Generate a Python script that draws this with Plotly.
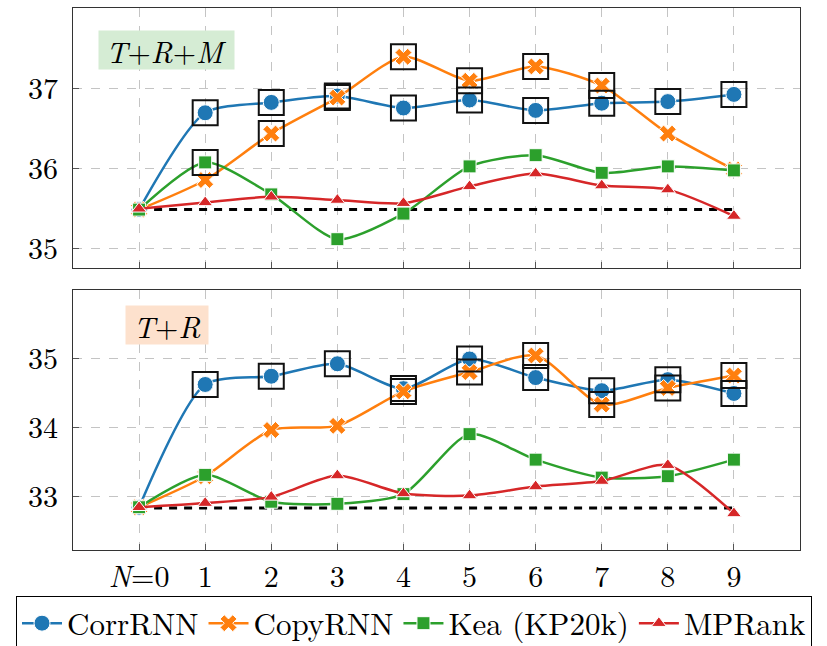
import plotly.graph_objects as go

# ---------------- data ----------------
N = [0, 1, 2, 3, 4, 5, 6, 7, 8, 9]
tick_labels = ["<i>N</i>=0", "1", "2", "3", "4", "5", "6", "7", "8", "9"]

# Panel T+R+M (top)
top_corr = [35.48, 36.69, 36.82, 36.90, 36.75, 36.85, 36.72, 36.81, 36.83, 36.92]
top_copy = [35.48, 35.85, 36.43, 36.88, 37.39, 37.09, 37.27, 37.03, 36.43, 35.98]
top_kea = [35.48, 36.07, 35.67, 35.11, 35.43, 36.02, 36.16, 35.94, 36.02, 35.97]
top_mpr = [35.49, 35.57, 35.64, 35.60, 35.56, 35.77, 35.93, 35.78, 35.73, 35.40]
top_base = 35.48
top_corr_sig = [0, 1, 1, 1, 1, 1, 1, 1, 1, 1]
top_copy_sig = [0, 0, 1, 1, 1, 1, 1, 1, 0, 0]
top_kea_sig = [0, 1, 0, 0, 0, 0, 0, 0, 0, 0]

# Panel T+R (bottom)
bot_corr = [32.85, 34.63, 34.75, 34.93, 34.57, 35.00, 34.73, 34.54, 34.70, 34.50]
bot_copy = [32.85, 33.30, 33.97, 34.03, 34.53, 34.81, 35.05, 34.34, 34.58, 34.76]
bot_kea = [32.85, 33.32, 32.93, 32.90, 33.04, 33.91, 33.54, 33.28, 33.30, 33.54]
bot_mpr = [32.85, 32.91, 33.00, 33.31, 33.05, 33.02, 33.15, 33.23, 33.46, 32.76]
bot_base = 32.84
bot_corr_sig = [0, 1, 1, 1, 1, 1, 1, 1, 1, 1]
bot_copy_sig = [0, 0, 0, 0, 1, 1, 1, 1, 1, 1]
bot_kea_sig = [0, 0, 0, 0, 0, 0, 0, 0, 0, 0]

series_names = ["CorrRNN", "CopyRNN", "Kea (KP20k)", "MPRank"]
colors = ["#1f77b4", "#ff7f0e", "#2ca02c", "#d62728"]
symbols = ["circle", "x", "square", "triangle-up"]
msizes = [16, 15, 13, 13]

FONT = "Latin Modern Roman"

fig = go.Figure()

panels = [
    ("y", [top_corr, top_copy, top_kea, top_mpr], top_base,
     [top_corr_sig, top_copy_sig, top_kea_sig], True),
    ("y2", [bot_corr, bot_copy, bot_kea, bot_mpr], bot_base,
     [bot_corr_sig, bot_copy_sig, bot_kea_sig], False),
]

for yref, data, base, sigs, show in panels:
    xa = "x" if yref == "y" else "x2"
    fig.add_trace(go.Scatter(
        x=[N[0], N[-1]], y=[base, base], mode="lines",
        line=dict(color="black", width=3, dash="8px,7px"),
        showlegend=False, hoverinfo="skip", xaxis=xa, yaxis=yref))
    for i, vals in enumerate(data):
        fig.add_trace(go.Scatter(
            x=N, y=vals, mode="lines+markers", name=series_names[i],
            line=dict(color=colors[i], width=2.5, shape="spline", smoothing=0.7),
            marker=dict(symbol=symbols[i], size=msizes[i], color=colors[i],
                        line=dict(color="white", width=1)),
            showlegend=show, xaxis=xa, yaxis=yref))
    for i, sig in enumerate(sigs):
        xs = [n for n, s in zip(N, sig) if s]
        ys = [v for v, s in zip(data[i], sig) if s]
        if xs:
            fig.add_trace(go.Scatter(
                x=xs, y=ys, mode="markers",
                marker=dict(symbol="square-open", size=25, color="#111111",
                            line=dict(width=2)),
                showlegend=False, hoverinfo="skip", xaxis=xa, yaxis=yref))

common_x = dict(range=[-1, 10], tickvals=N, ticktext=tick_labels,
                showgrid=True, gridcolor="#c4c4c4", griddash="dash", gridwidth=1,
                zeroline=False, showline=True, linecolor="#333333", linewidth=1.2,
                mirror=True, ticks="inside", ticklen=6, tickcolor="#555555",
                tickfont=dict(family=FONT, size=30, color="black"))
common_y = dict(showgrid=True, gridcolor="#c4c4c4", griddash="dash", gridwidth=1,
                zeroline=False, showline=True, linecolor="#333333", linewidth=1.2,
                mirror=True, ticks="inside", ticklen=6, tickcolor="#555555",
                tickfont=dict(family=FONT, size=30, color="black"),
                ticklabelstandoff=8)

fig.update_layout(
    width=827, height=646,
    margin=dict(l=73, r=27, t=8, b=96, autoexpand=False),
    paper_bgcolor="white", plot_bgcolor="white",
    font=dict(family=FONT, color="black"),
    xaxis=dict(common_x, domain=[0, 1], anchor="y", showticklabels=False),
    yaxis=dict(common_y, domain=[0.5203, 1], anchor="x", range=[34.75, 38.0],
               tickvals=[35, 36, 37]),
    xaxis2=dict(common_x, domain=[0, 1], anchor="y2"),
    yaxis2=dict(common_y, domain=[0, 0.4797], anchor="x2", range=[32.23, 36.0],
                tickvals=[33, 34, 35]),
    legend=dict(orientation="h", x=-0.0784, y=-0.084, xanchor="left", yanchor="top",
                bordercolor="black", borderwidth=1, bgcolor="white",
                font=dict(family=FONT, size=31), itemwidth=40,
                tracegroupgap=0),
    showlegend=True,
)

fig.add_annotation(xref="x domain", yref="y domain", x=0.0344, y=0.9154,
                   xanchor="left", yanchor="top", showarrow=False,
                   text="<i>T</i>+<i>R</i>+<i>M</i>", width=135, height=38,
                   font=dict(family=FONT, size=30, color="black"),
                   bgcolor="#d5ecd4", borderpad=0)
fig.add_annotation(xref="x2 domain", yref="y2 domain", x=0.0715, y=0.9423,
                   xanchor="left", yanchor="top", showarrow=False,
                   text="<i>T</i>+<i>R</i>", width=82, height=38,
                   font=dict(family=FONT, size=30, color="black"),
                   bgcolor="#fde1cd", borderpad=0)

fig.write_html("out.html", config={"displayModeBar": False},
               post_script="document.body.style.margin='0px';")
